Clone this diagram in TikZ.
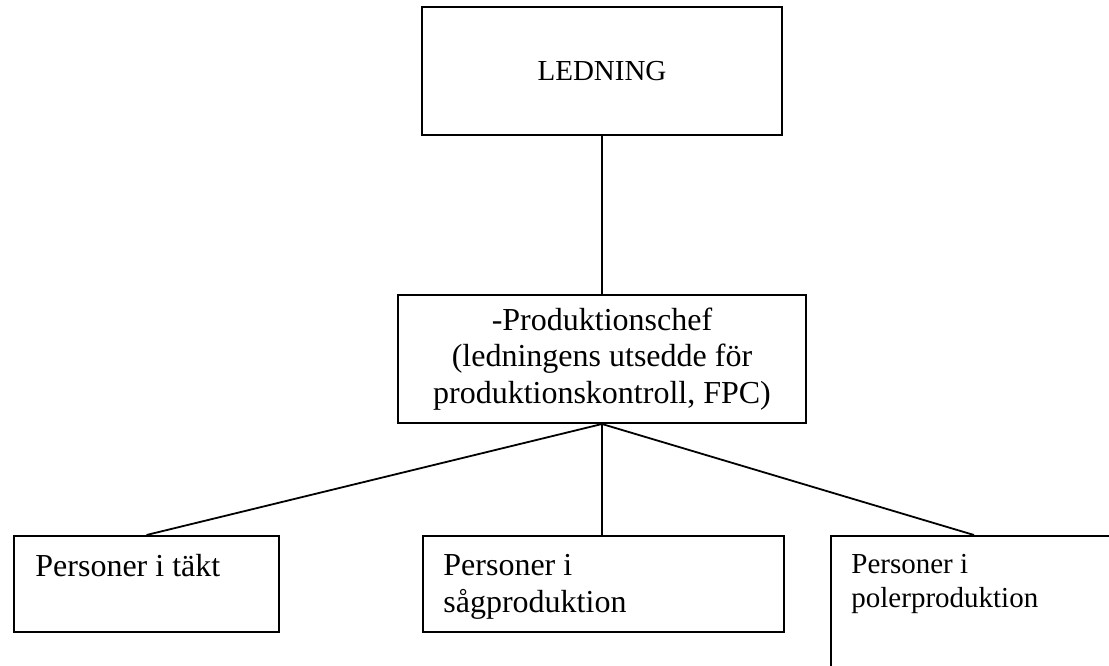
\documentclass[tikz,border=0pt]{standalone}
\usepackage{fontspec}
\setmainfont{Liberation Serif}
\usetikzlibrary{positioning}

\begin{document}
\begin{tikzpicture}[x=0.5pt, y=-0.5pt,
    every node/.style={font=\fontsize{16}{18.3}\selectfont},
    box/.style={draw, line width=1pt, inner sep=0pt},
    lbl/.style={inner sep=0pt, anchor=base west, align=left},
    conn/.style={line width=0.9pt}]
  \useasboundingbox (0,0) rectangle (1109,665);
  % top of the chart
  \node[box, minimum width=180pt, minimum height=64pt,
        font=\fontsize{14.5}{17}\selectfont] (ledning) at (602,71) {LEDNING};
  \node[box, minimum width=204pt, minimum height=64pt, align=center]
        (chef) at (602,359) {-Produktionschef\\(ledningens utsedde för\\produktionskontroll, FPC)};
  % bottom row
  \node[box, minimum width=132.5pt, minimum height=48pt, anchor=north west] (takt) at (13,535) {};
  \node[box, minimum width=180.5pt, minimum height=48pt, anchor=north west] (sag) at (422,535) {};
  \node[box, minimum width=143pt, minimum height=75pt, anchor=north west] (poler) at (830,535) {};
  \node[lbl] (taktText) at (35,576) {Personer i täkt};
  \node[lbl] (sagText) at (443,612) {Personer i\\sågproduktion};
  \node[lbl, font=\fontsize{14.5}{17}\selectfont] (polerText) at (851,607) {Personer i\\polerproduktion};
  \draw[conn] (ledning) -- (chef);
  \draw[conn] (chef.south) -- (takt.north);
  \draw[conn] (chef.south) -- (chef.south |- sag.north);
  \draw[conn] (chef.south) -- (poler.north);
\end{tikzpicture}
\end{document}
